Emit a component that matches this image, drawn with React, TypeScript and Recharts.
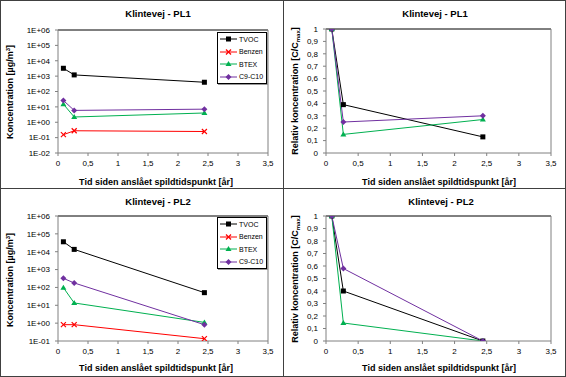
import { LineChart, Line, XAxis, YAxis, Legend, ReferenceLine } from 'recharts';

// time since estimated spill [years]
const years = [0.09, 0.27, 2.44];
const xTicks = [0, 0.5, 1, 1.5, 2, 2.5, 3, 3.5];

// PL1 concentrations [µg/m3]
const pl1Tvoc = [3240, 1200, 400];
const pl1Benzen = [0.155, 0.28, 0.25];
const pl1Btex = [15, 2.2, 4];
const pl1C9C10 = [26, 5.9, 7.1];

// PL1 relative concentrations
const pl1RelTvoc = [1, 0.39, 0.13];
const pl1RelBtex = [1, 0.15, 0.27];
const pl1RelC9C10 = [1, 0.25, 0.3];

// PL2 concentrations [µg/m3]
const pl2Tvoc = [36000, 13500, 51];
const pl2Benzen = [0.82, 0.82, 0.135];
const pl2Btex = [97, 13.5, 1.1];
const pl2C9C10 = [323, 178, 0.82];

// PL2 relative concentrations
const pl2RelTvoc = [1, 0.4, 0];
const pl2RelBtex = [1, 0.144, 0];
const pl2RelC9C10 = [1, 0.58, 0];

const logTicksPL1 = [1e-2, 1e-1, 1, 1e1, 1e2, 1e3, 1e4, 1e5, 1e6];
const logTicksPL2 = [1e-1, 1, 1e1, 1e2, 1e3, 1e4, 1e5, 1e6];
const relTicks = [0, 0.1, 0.2, 0.3, 0.4, 0.5, 0.6, 0.7, 0.8, 0.9, 1];

const FONT = '"Liberation Sans", Arial, sans-serif';
const AXIS = '#808080';

type Shape = 'square' | 'cross' | 'triangle' | 'diamond';
const series: { key: string; color: string; shape: Shape }[] = [
  { key: 'TVOC', color: '#000000', shape: 'square' },
  { key: 'Benzen', color: '#ff0000', shape: 'cross' },
  { key: 'BTEX', color: '#00b050', shape: 'triangle' },
  { key: 'C9-C10', color: '#7030a0', shape: 'diamond' },
];

const rows = (cols: Record<string, number[]>) =>
  years.map((x, i) => {
    const r: Record<string, number> = { x };
    Object.keys(cols).forEach(k => (r[k] = cols[k][i]));
    return r;
  });

const pl1Abs = rows({ TVOC: pl1Tvoc, Benzen: pl1Benzen, BTEX: pl1Btex, 'C9-C10': pl1C9C10 });
const pl1Rel = rows({ TVOC: pl1RelTvoc, BTEX: pl1RelBtex, 'C9-C10': pl1RelC9C10 });
const pl2Abs = rows({ TVOC: pl2Tvoc, Benzen: pl2Benzen, BTEX: pl2Btex, 'C9-C10': pl2C9C10 });
const pl2Rel = rows({ TVOC: pl2RelTvoc, BTEX: pl2RelBtex, 'C9-C10': pl2RelC9C10 });

const Marker = ({ shape, color, x, y }: { shape: Shape; color: string; x: number; y: number }) => {
  if (shape === 'square') return <rect x={x - 2.5} y={y - 2.5} width={5} height={5} fill={color} />;
  if (shape === 'cross')
    return (
      <g stroke={color} strokeWidth={1.2}>
        <line x1={x - 2.5} y1={y - 2.5} x2={x + 2.5} y2={y + 2.5} />
        <line x1={x - 2.5} y1={y + 2.5} x2={x + 2.5} y2={y - 2.5} />
      </g>
    );
  if (shape === 'triangle')
    return <polygon points={`${x},${y - 3} ${x + 3},${y + 2} ${x - 3},${y + 2}`} fill={color} />;
  return <polygon points={`${x},${y - 3} ${x + 3},${y} ${x},${y + 3} ${x - 3},${y}`} fill={color} />;
};

const makeDot = (shape: Shape, color: string) => (props: any) => {
  const { cx, cy, index } = props;
  if (cx == null || cy == null) return <g key={index} />;
  return (
    <g key={index}>
      <Marker shape={shape} color={color} x={cx} y={cy} />
    </g>
  );
};

const LegendBox = () => (
  <div
    style={{
      border: '1px solid #000',
      boxShadow: '1px 1px 0 #999',
      background: '#fff',
      fontFamily: FONT,
      fontSize: 7,
      width: 48,
    }}
  >
    {series.map(s => (
      <div key={s.key} style={{ height: 12.5, display: 'flex', alignItems: 'center' }}>
        <svg width={20} height={10} style={{ display: 'block' }}>
          <line x1={2} y1={5} x2={19} y2={5} stroke={s.color} strokeWidth={1} />
          <Marker shape={s.shape} color={s.color} x={10.5} y={5} />
        </svg>
        <span style={{ marginLeft: 1 }}>{s.key}</span>
      </div>
    ))}
  </div>
);

const fmtLog = (v: number) => {
  const e = Math.round(Math.log10(v));
  const sign = e < 0 ? '-' : '+';
  return `1E${sign}${String(Math.abs(e)).padStart(2, '0')}`;
};
const fmtComma = (v: number) => String(v).replace('.', ',');

const tickStyle = { fontSize: 8, fill: '#000', fontFamily: FONT };

interface PanelProps {
  data: Record<string, number>[];
  keys: string[];
  log: boolean;
  ticks: number[];
  height: number;
  top: number;
  bottom: number;
  yWidth: number;
  legendTop?: number;
}

const Panel = ({ data, keys, log, ticks, height, top, bottom, yWidth, legendTop }: PanelProps) => (
  <LineChart
    width={283}
    height={height}
    data={data}
    margin={{ top, right: 15, bottom: 0, left: 0 }}
    style={{ fontFamily: FONT }}
  >
    <XAxis
      dataKey="x"
      type="number"
      domain={[0, 3.5]}
      ticks={xTicks}
      tickFormatter={fmtComma}
      axisLine={{ stroke: AXIS }}
      tickLine={{ stroke: AXIS }}
      tickSize={3}
      tickMargin={4}
      tick={tickStyle}
      height={bottom}
      interval={0}
    />
    <YAxis
      type="number"
      scale={log ? 'log' : 'linear'}
      domain={[ticks[0], ticks[ticks.length - 1]]}
      ticks={ticks}
      allowDataOverflow
      tickFormatter={log ? fmtLog : fmtComma}
      axisLine={{ stroke: AXIS }}
      tickLine={{ stroke: AXIS }}
      tickSize={3}
      tickMargin={5}
      tick={tickStyle}
      width={yWidth}
      interval={0}
    />
    <ReferenceLine y={ticks[ticks.length - 1]} stroke="#000" strokeWidth={1} />
    <ReferenceLine x={3.5} stroke={AXIS} strokeWidth={1} />
    {series
      .filter(s => keys.includes(s.key))
      .map(s => (
        <Line
          key={s.key}
          dataKey={s.key}
          stroke={s.color}
          strokeWidth={1}
          dot={makeDot(s.shape, s.color)}
          activeDot={false}
          isAnimationActive={false}
        />
      ))}
    {legendTop != null && (
      <Legend
        layout="vertical"
        align="center"
        verticalAlign="middle"
        wrapperStyle={{ left: 217, top: legendTop, width: 50, height: 52 }}
        content={() => <LegendBox />}
      />
    )}
  </LineChart>
);

const titleStyle = { fontFamily: FONT, fontSize: 9.5, fontWeight: 700 } as const;
const labelStyle = { fontFamily: FONT, fontSize: 9, fontWeight: 700 } as const;

export default function App() {
  const allKeys = ['TVOC', 'Benzen', 'BTEX', 'C9-C10'];
  const relKeys = ['TVOC', 'BTEX', 'C9-C10'];
  return (
    <div style={{ position: 'absolute', left: 0, top: 0, width: 566, height: 377, background: '#fff' }}>
      <div style={{ position: 'absolute', left: 0, top: 0 }}>
        <Panel data={pl1Abs} keys={allKeys} log ticks={logTicksPL1} height={188} top={30} bottom={35} yWidth={58} legendTop={32} />
      </div>
      <div style={{ position: 'absolute', left: 283, top: 0 }}>
        <Panel data={pl1Rel} keys={relKeys} log={false} ticks={relTicks} height={188} top={29} bottom={35} yWidth={43} />
      </div>
      <div style={{ position: 'absolute', left: 0, top: 188 }}>
        <Panel data={pl2Abs} keys={allKeys} log ticks={logTicksPL2} height={189} top={28} bottom={36} yWidth={58} legendTop={29} />
      </div>
      <div style={{ position: 'absolute', left: 283, top: 188 }}>
        <Panel data={pl2Rel} keys={relKeys} log={false} ticks={relTicks} height={189} top={28} bottom={36} yWidth={43} />
      </div>
      <svg width={566} height={377} style={{ position: 'absolute', left: 0, top: 0, pointerEvents: 'none' }}>
        <rect x={0.5} y={0.5} width={565} height={376} fill="none" stroke="#404040" />
        <line x1={283.5} y1={0} x2={283.5} y2={377} stroke="#404040" />
        <line x1={0} y1={188.5} x2={566} y2={188.5} stroke="#404040" />

        <text x={158} y={16.5} textAnchor="middle" style={titleStyle}>Klintevej - PL1</text>
        <text x={435} y={16.5} textAnchor="middle" style={titleStyle}>Klintevej - PL1</text>
        <text x={158} y={204.5} textAnchor="middle" style={titleStyle}>Klintevej - PL2</text>
        <text x={441} y={204.5} textAnchor="middle" style={titleStyle}>Klintevej - PL2</text>

        <text x={156} y={185} textAnchor="middle" style={labelStyle}>Tid siden anslået spildtidspunkt [år]</text>
        <text x={439} y={185} textAnchor="middle" style={labelStyle}>Tid siden anslået spildtidspunkt [år]</text>
        <text x={156} y={371} textAnchor="middle" style={labelStyle}>Tid siden anslået spildtidspunkt [år]</text>
        <text x={439} y={371} textAnchor="middle" style={labelStyle}>Tid siden anslået spildtidspunkt [år]</text>

        <text transform="translate(13,92) rotate(-90)" textAnchor="middle" style={labelStyle}>
          Koncentration [µg/m<tspan dy={-3} fontSize={6}>3</tspan><tspan dy={3}>]</tspan>
        </text>
        <text transform="translate(13,280) rotate(-90)" textAnchor="middle" style={labelStyle}>
          Koncentration [µg/m<tspan dy={-3} fontSize={6}>3</tspan><tspan dy={3}>]</tspan>
        </text>
        <text transform="translate(298,91) rotate(-90)" textAnchor="middle" style={labelStyle}>
          Relativ koncentration [C/C<tspan dy={2} fontSize={6}>max</tspan><tspan dy={-2}>]</tspan>
        </text>
        <text transform="translate(298,279) rotate(-90)" textAnchor="middle" style={labelStyle}>
          Relativ koncentration [C/C<tspan dy={2} fontSize={6}>max</tspan><tspan dy={-2}>]</tspan>
        </text>
      </svg>
    </div>
  );
}
